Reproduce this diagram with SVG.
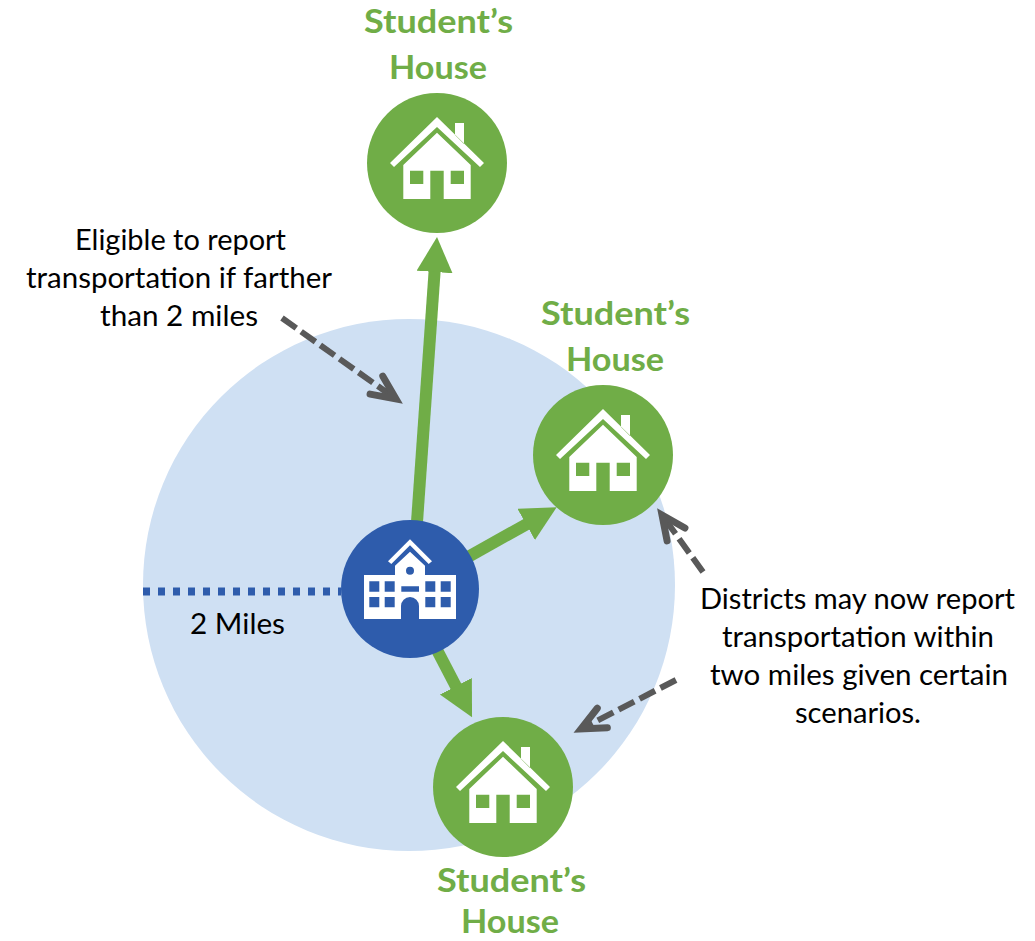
<svg xmlns="http://www.w3.org/2000/svg" width="1035" height="941" viewBox="0 0 1035 941">
<style>
.t{font-family:Lato,"Open Sans",sans-serif;font-size:29px;fill:#000;text-anchor:middle}
.l{font-family:Lato,"Open Sans",sans-serif;font-size:33px;font-weight:700;fill:#70ad47;text-anchor:middle}
.g{stroke:#70ad47;stroke-width:12;fill:none}
.d{stroke:#595959;stroke-width:6;fill:none;stroke-dasharray:17.5 6}
.gc{fill:#70ad47}
.ic{fill:#fff;fill-rule:evenodd}
</style>
<defs>
<marker id="gh" markerUnits="userSpaceOnUse" markerWidth="40" markerHeight="40" refX="2" refY="18" orient="auto"><path d="M0,0L35,18L0,36Z" fill="#70ad47"/></marker>
<marker id="dh" markerUnits="userSpaceOnUse" markerWidth="40" markerHeight="40" refX="27" refY="18" orient="auto" overflow="visible"><path d="M3,7L27,18L3,29" fill="none" stroke="#595959" stroke-width="7" stroke-linecap="round" stroke-linejoin="miter"/></marker>
<g id="house">
<path class="ic" d="M0,-46L47,0L43,4L0,-36L-43,4L-47,0ZM18,-40h9v21L18,-28Z"/>
<path class="ic" d="M0,-30.3L33.7,2V36H6.7V7.7H-6.7V36H-33.7V2ZM-27,7.7V21H-13.7V7.7ZM13.7,7.7V21H27V7.7Z"/>
</g>
</defs>
<circle id="area" cx="409" cy="585" r="266" fill="#cfe0f3"/>
<g id="connectors">
<line x1="143" y1="591.5" x2="341" y2="591.5" stroke="#2e5cac" stroke-width="8" stroke-dasharray="7 8"/>
<line class="g" x1="417" y1="522" x2="434.7" y2="270" marker-end="url(#gh)"/>
<line class="g" x1="468" y1="557" x2="527.9" y2="523.4" marker-end="url(#gh)"/>
<line class="g" x1="437" y1="650" x2="456.8" y2="688" marker-end="url(#gh)"/>
<line class="d" x1="282" y1="318" x2="396" y2="399" marker-end="url(#dh)"/>
<line class="d" x1="703" y1="572" x2="662" y2="515" marker-end="url(#dh)"/>
<line class="d" x1="676" y1="680" x2="581" y2="729" marker-end="url(#dh)"/>
</g>
<g id="house-top"><circle class="gc" cx="437" cy="163" r="70"/><use href="#house" x="437" y="163"/>
<text class="l" x="438.5" y="33" textLength="149" lengthAdjust="spacingAndGlyphs">Student’s</text><text class="l" x="438" y="79" textLength="98" lengthAdjust="spacingAndGlyphs">House</text></g>
<g id="house-right"><circle class="gc" cx="603" cy="455" r="70"/><use href="#house" x="603" y="455"/>
<text class="l" x="615.5" y="325" textLength="149" lengthAdjust="spacingAndGlyphs">Student’s</text><text class="l" x="615" y="371" textLength="98" lengthAdjust="spacingAndGlyphs">House</text></g>
<g id="house-bottom"><circle class="gc" cx="503" cy="787" r="70"/><use href="#house" x="503" y="787"/>
<text class="l" x="511.5" y="892" textLength="149" lengthAdjust="spacingAndGlyphs">Student’s</text><text class="l" x="510" y="933" textLength="98" lengthAdjust="spacingAndGlyphs">House</text></g>
<g id="school"><circle cx="410" cy="589" r="69" fill="#2e5cac"/>
<path class="ic" transform="translate(410 589)" d="M0,-49.7L22,-27.7L18.7,-25L0,-43.7L-18.7,-25L-22,-27.7Z"/>
<path class="ic" transform="translate(410 589)" d="M0,-37.3L15,-23.3V-14H46V30H9V17A9,9 0 0 0 -9,17V30H-46V-14H-15V-23.3ZM-4,-18.3a4,4 0 1 0 8,0a4,4 0 1 0 -8,0ZM-40.7,-7.7V2.7H-30.7V-7.7ZM-25.3,-7.7V2.7H-15.3V-7.7ZM15.3,-7.7V2.7H25.3V-7.7ZM30.7,-7.7V2.7H40.7V-7.7ZM-40.7,8V18.3H-30.7V8ZM-25.3,8V18.3H-15.3V8ZM15.3,8V18.3H25.3V8ZM30.7,8V18.3H40.7V8ZM-8.7,-2.7V2.7H9V-2.7Z"/>
</g>
<g id="labels">
<text class="t" x="180.5" y="250" textLength="211" lengthAdjust="spacingAndGlyphs">Eligible to report</text>
<text class="t" x="179" y="288" textLength="306" lengthAdjust="spacingAndGlyphs">transportation if farther</text>
<text class="t" x="179" y="326" textLength="158" lengthAdjust="spacingAndGlyphs">than 2 miles</text>
<text class="t" x="237.5" y="634" textLength="95" lengthAdjust="spacingAndGlyphs">2 Miles</text>
<text class="t" x="857.5" y="609" textLength="315" lengthAdjust="spacingAndGlyphs">Districts may now report</text>
<text class="t" x="858" y="647" textLength="272" lengthAdjust="spacingAndGlyphs">transportation within</text>
<text class="t" x="859" y="685" textLength="298" lengthAdjust="spacingAndGlyphs">two miles given certain</text>
<text class="t" x="858" y="723" textLength="126" lengthAdjust="spacingAndGlyphs">scenarios.</text>
</g>
</svg>
